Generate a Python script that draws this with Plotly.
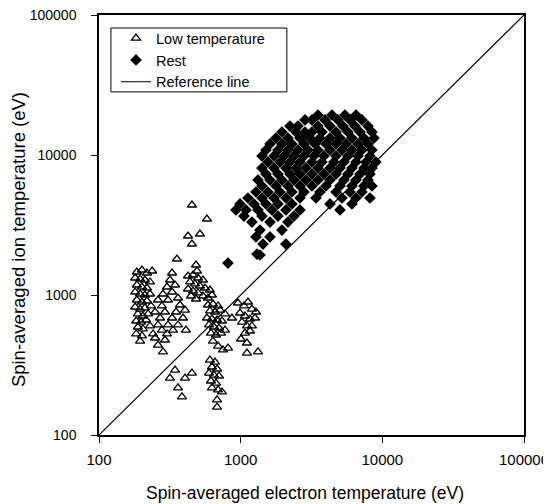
import plotly.graph_objects as go

# Low temperature points (electron T, ion T) in eV
low_te = [185, 201, 218, 237, 180, 195, 211, 229, 185, 201, 218, 180, 195, 211, 229,
          185, 201, 218, 180, 195, 211, 233, 188, 204, 222, 183, 198, 215, 188, 204, 229,
          183, 201, 241, 195,
          261, 278, 292, 270, 307, 328, 344, 317, 302, 283, 361, 373, 350, 328, 307, 278,
          302, 333, 361, 392, 405, 261, 249, 328, 411,
          425, 461, 500, 542, 439, 476, 516, 560, 607, 425, 461, 500, 542, 588, 446, 484, 627,
          453, 578, 425, 516, 453, 355, 484, 492,
          588, 638, 692, 607, 659, 715, 775, 578, 627, 681, 738, 598, 648, 703, 617, 670, 726,
          775, 638, 692, 750, 814, 868,
          989, 1055, 1126, 1201, 1282, 1072, 1163, 1262, 1021, 1108, 1201, 1072, 1163, 1005,
          1108, 1108, 1325, 957,
          607, 659, 627, 681, 598, 648, 703, 617, 670, 627, 692, 738, 681, 681,
          344, 317, 405, 453, 361, 385, 283, 292, 261, 249]
low_ti = [1460, 1509, 1436, 1484, 1323, 1301, 1280, 1239, 1179, 1141, 1122, 1051, 1017, 1000, 1017,
          921, 891, 906, 821, 794, 808, 835, 732, 708, 732, 652, 641, 663, 591, 572, 601,
          527, 510, 527, 469,
          921, 835, 756, 685, 921, 1051, 1179, 1280, 1141, 1017, 952, 848, 756, 685, 611, 562,
          527, 562, 611, 685, 781, 611, 756, 1436, 562,
          1367, 1390, 1323, 1280, 1239, 1199, 1160, 1122, 1086, 1104, 1068, 1034, 984, 952, 984, 936, 1000,
          4395, 3491, 2639, 2728, 2313, 1808, 1638, 1484,
          848, 862, 835, 769, 756, 781, 732, 685, 674, 663, 652, 611, 591, 581, 535, 518, 535,
          562, 469, 432, 405, 418, 685,
          744, 835, 891, 794, 756, 708, 674, 685, 641, 601, 601, 535, 553, 485,
          454, 385, 392, 877,
          343, 332, 306, 296, 277, 268, 264, 243, 235, 217, 210, 203, 178, 158,
          291, 255, 255, 277, 217, 187, 392, 477, 439, 493]

# Rest points
rest_te = [3512, 4409, 5446, 6514,
           2843, 3185, 3935, 4862, 5907, 7180,
           2228, 2537, 3512, 4268, 5273, 6409, 7915,
           1956, 2456, 2843, 3185, 3748, 4706, 5718, 6951, 8446,
           1775, 2156, 2621, 3083, 3628, 4268, 5022, 6102, 7417, 8725,
           1610, 1956, 2301, 2797, 3345, 3999, 4706, 5535, 6729, 7915,
           1509, 1833, 2156, 2537, 2985, 3512, 4268, 5188, 6102, 7180, 8446,
           1414, 1718, 2021, 2378, 2797, 3291, 3871, 4706, 5718, 6729, 8176,
           1558, 1894, 2228, 2621, 3185, 3748, 4555, 5358, 6514, 7662, 9013,
           1414, 1718, 2087, 2456, 2889, 3512, 4268, 5022, 6102, 7417, 8446,
           1509, 1833, 2228, 2621, 3185, 3871, 4706, 5718, 6951, 8176,
           1325, 1610, 1956, 2378, 2889, 3512, 4268, 5358, 6514, 7915,
           1414, 1775, 2156, 2621, 3185, 3999, 5022, 6102, 7417, 8446,
           1282, 1558, 1894, 2301, 2797, 3628, 4706, 5907, 7180,
           1126, 1414, 1718, 2087, 2621, 3399, 5188, 6514, 8176,
           989, 1241, 1509, 1833, 2301, 4268, 6102,
           926, 1090, 1325, 1663, 2087, 2621, 5022,
           1055, 1414, 1833, 2378,
           1201, 1610, 2156,
           1368, 1956,
           1282, 1610,
           2087, 1437,
           1303, 1368,
           813]
rest_ti = [19300] * 4 + [17800] * 6 + [16100] * 7 + [14600] * 9 + [13200] * 10 + \
          [12000] * 10 + [10860] * 11 + [9840] * 11 + [8910] * 11 + [8070] * 11 + \
          [7310] * 10 + [6630] * 10 + [6010] * 10 + [5440] * 9 + [4930] * 9 + \
          [4470] * 7 + [4050] * 7 + [3660] * 4 + [3320] * 3 + [2910] * 2 + \
          [2600] * 2 + [2310] * 2 + [1960, 1930] + [1690]

ref_x = [100, 100000]
ref_y = [100, 100000]

tick_vals = [100, 1000, 10000, 100000]
tick_text = ["100", "1000", "10000", "100000"]

x_title = "Spin-averaged electron temperature (eV)"
y_title = "Spin-averaged ion temperature (eV)"

FONT = "Liberation Sans, Arial, sans-serif"

fig = go.Figure()
fig.add_trace(go.Scatter(
    x=low_te, y=low_ti, mode="markers", name="Low temperature",
    marker=dict(symbol="triangle-up-open", size=8, color="black", line=dict(width=1.3, color="black")),
))
fig.add_trace(go.Scatter(
    x=rest_te, y=rest_ti, mode="markers", name="Rest",
    marker=dict(symbol="diamond", size=9, color="black"),
))
fig.add_trace(go.Scatter(
    x=ref_x, y=ref_y, mode="lines", name="Reference line",
    line=dict(color="black", width=1.2),
))

axis_common = dict(
    type="log", range=[2, 5], tickvals=tick_vals, ticktext=tick_text,
    showgrid=False, zeroline=False, showline=True, linecolor="black", linewidth=1.5,
    mirror=True, ticks="outside", ticklen=6, tickcolor="black", automargin=False,
    ticklabeloverflow="allow",
)

fig.update_layout(
    width=543, height=496,
    margin=dict(l=91, r=27, t=7, b=69),
    paper_bgcolor="white", plot_bgcolor="white",
    font=dict(family=FONT, color="black"),
    xaxis=dict(**axis_common, ticklabelstandoff=4,
               tickfont=dict(family=FONT, size=15, color="black")),
    yaxis=dict(**axis_common, ticklabelstandoff=12,
               tickfont=dict(family=FONT, size=14, color="black")),
    legend=dict(x=0.04, y=0.983, xanchor="left", yanchor="top",
                borderwidth=0, bgcolor="rgba(0,0,0,0)",
                font=dict(family=FONT, size=14.5, color="black"),
                tracegroupgap=0, itemwidth=30),
    showlegend=True,
    shapes=[dict(type="rect", xref="paper", yref="paper",
                 x0=0.028, x1=0.442, y0=0.817, y1=0.969,
                 line=dict(color="black", width=1), fillcolor="white", layer="below")],
    annotations=[
        dict(text=x_title, xref="paper", yref="paper", x=0.485, y=0, yshift=-58,
             xanchor="center", yanchor="middle", showarrow=False,
             font=dict(family=FONT, size=17.5, color="black")),
        dict(text=y_title, xref="paper", yref="paper", x=0, y=0.464, xshift=-81,
             xanchor="center", yanchor="middle", showarrow=False, textangle=-90,
             font=dict(family=FONT, size=18.5, color="black")),
    ],
)

fig.write_html("out.html")
